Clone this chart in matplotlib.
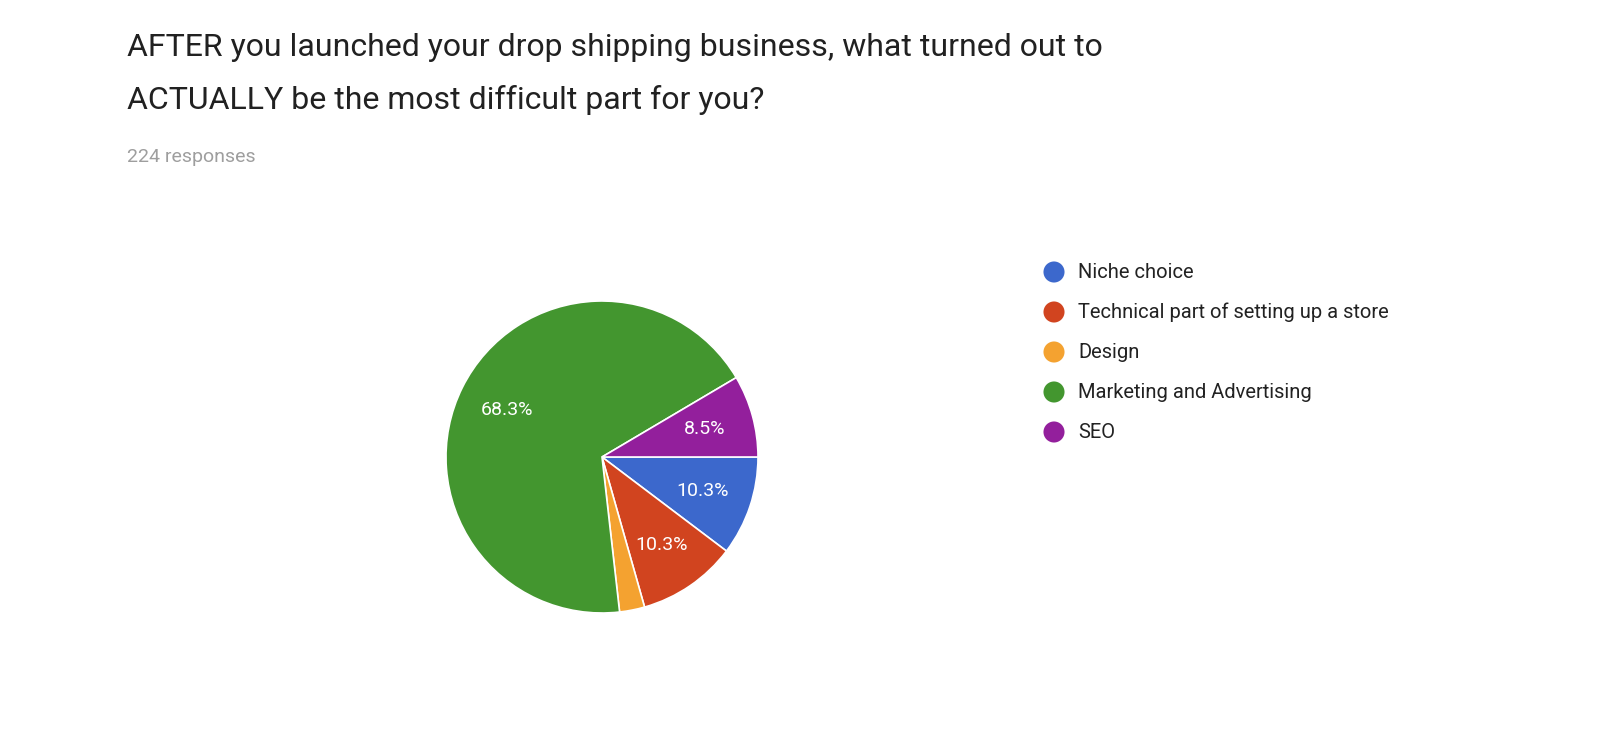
import matplotlib.pyplot as plt

labels = ['Niche choice', 'Technical part of setting up a store', 'Design',
          'Marketing and Advertising', 'SEO']
shares = [10.3, 10.3, 2.6, 68.3, 8.5]
colors = ['#3c68cc', '#d1441f', '#f4a230', '#43962f', '#931f9c']

plt.rcParams['font.family'] = ['Roboto', 'DejaVu Sans']
fig = plt.figure(figsize=(16, 7.35), dpi=100)

fig.text(127 / 1600, 1 - 48 / 735, 'AFTER you launched your drop shipping business, what turned out to',
         fontsize=23, color='#212121', va='center')
fig.text(127 / 1600, 1 - 100 / 735, 'ACTUALLY be the most difficult part for you?',
         fontsize=23, color='#212121', va='center')
fig.text(127 / 1600, 1 - 157 / 735, '224 responses', fontsize=14, color='#9e9e9e', va='center')

ax = fig.add_axes([(602 - 195) / 1600, (735 - 457 - 195) / 735, 390 / 1600, 390 / 735])
wedges, texts, autotexts = ax.pie(
    shares, colors=colors, startangle=0, counterclock=False,
    autopct=lambda p: f'{p:.1f}%' if p > 5 else '', pctdistance=0.68,
    wedgeprops=dict(edgecolor='white', linewidth=1.2),
    textprops=dict(color='white', fontsize=14))
ax.set_aspect('equal')

# legend drawn in a pixel-coordinate overlay
lax = fig.add_axes([0, 0, 1, 1], facecolor='none')
lax.set_xlim(0, 1600)
lax.set_ylim(735, 0)
lax.axis('off')
rows = [272 + 40 * i for i in range(len(labels))]
lax.scatter([1054] * len(labels), rows, s=230, c=colors, linewidths=0)
for lab, y in zip(labels, rows):
    lax.text(1078, y, lab, fontsize=14.5, color='#222222', va='center')

fig.savefig('out.png')
